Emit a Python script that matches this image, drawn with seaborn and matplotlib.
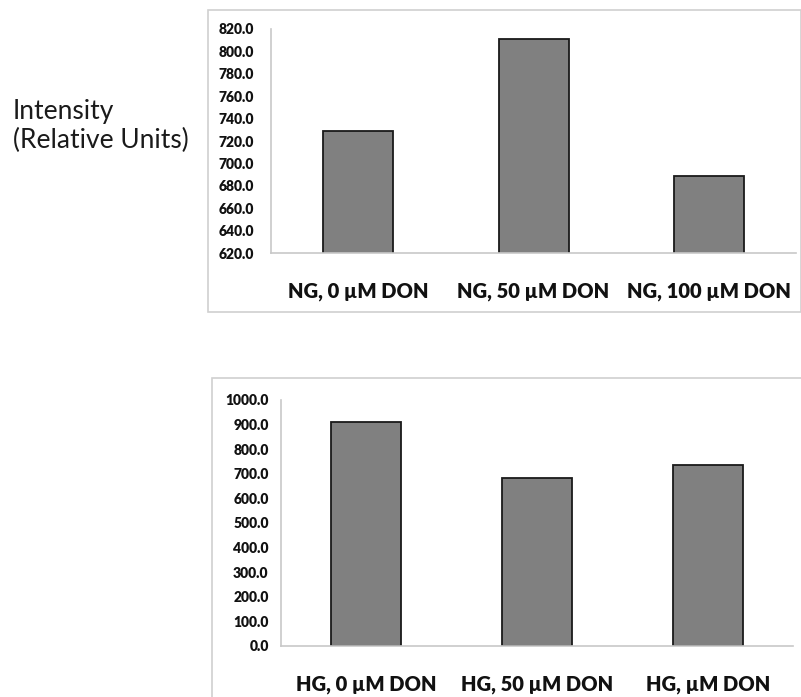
import matplotlib
matplotlib.use("Agg")
import matplotlib.pyplot as plt
import seaborn as sns
import pandas as pd
from matplotlib.patches import Rectangle
from matplotlib.ticker import FormatStrFormatter

ng_labels = ["NG, 0 µM DON", "NG, 50 µM DON", "NG, 100 µM DON"]
ng_values = [729, 811, 689]
ng_ticks = [620, 640, 660, 680, 700, 720, 740, 760, 780, 800, 820]

hg_labels = ["HG, 0 µM DON", "HG, 50 µM DON", "HG, µM DON"]
hg_values = [912, 684, 737]
hg_ticks = [0, 100, 200, 300, 400, 500, 600, 700, 800, 900, 1000]

sns.set_style("white")
plt.rcParams['font.family'] = ['Lato', 'DejaVu Sans']

fig = plt.figure(figsize=(8.01, 6.97), dpi=100)

# light frames around each chart
fig.patches.append(Rectangle((0.2597, 0.5524), 0.74, 0.4333, transform=fig.transFigure,
                             fill=False, edgecolor="#d0d0d0", lw=1.2))
fig.patches.append(Rectangle((0.2647, -0.05), 0.76, 0.5077, transform=fig.transFigure,
                             fill=False, edgecolor="#d0d0d0", lw=1.2))

fig.text(0.016, 1 - 119 / 697, "Intensity", fontsize=19, ha="left", va="baseline",
         color="#1a1a1a")
fig.text(0.016, 1 - 148 / 697, "(Relative Units)", fontsize=19, ha="left", va="baseline",
         color="#1a1a1a")


def draw(ax, labels, values, ticks, width, ticklen, ypad):
    df = pd.DataFrame({"cond": labels, "val": values})
    sns.barplot(data=df, x="cond", y="val", ax=ax, color="#808080", saturation=1,
                edgecolor="#1a1a1a", linewidth=1.3, width=width)
    ax.set_ylim(ticks[0], ticks[-1])
    ax.set_yticks(ticks)
    ax.yaxis.set_major_formatter(FormatStrFormatter("%.1f"))
    ax.set_xlabel("")
    ax.set_ylabel("")
    for s in ["top", "right"]:
        ax.spines[s].set_visible(False)
    for s in ["left", "bottom"]:
        ax.spines[s].set_color("#c8c8c8")
        ax.spines[s].set_linewidth(1.2)
    ax.tick_params(axis="y", length=ticklen, width=1.2, color="#c8c8c8", direction="out",
                   pad=ypad, labelsize=10, labelcolor="#111111")
    ax.tick_params(axis="x", length=0, pad=21, labelsize=14.5, labelcolor="#111111")
    for t in ax.get_yticklabels() + ax.get_xticklabels():
        t.set_fontweight("heavy")
    ax.set_facecolor("white")


ax1 = fig.add_axes([0.3383, 0.637, 0.6555, 0.3214])
draw(ax1, ng_labels, ng_values, ng_ticks, 0.4, 4, 8)

ax2 = fig.add_axes([0.351, 0.0732, 0.639, 0.353])
draw(ax2, hg_labels, hg_values, hg_ticks, 0.41, 0, 9)

fig.savefig("out.png", dpi=100)
